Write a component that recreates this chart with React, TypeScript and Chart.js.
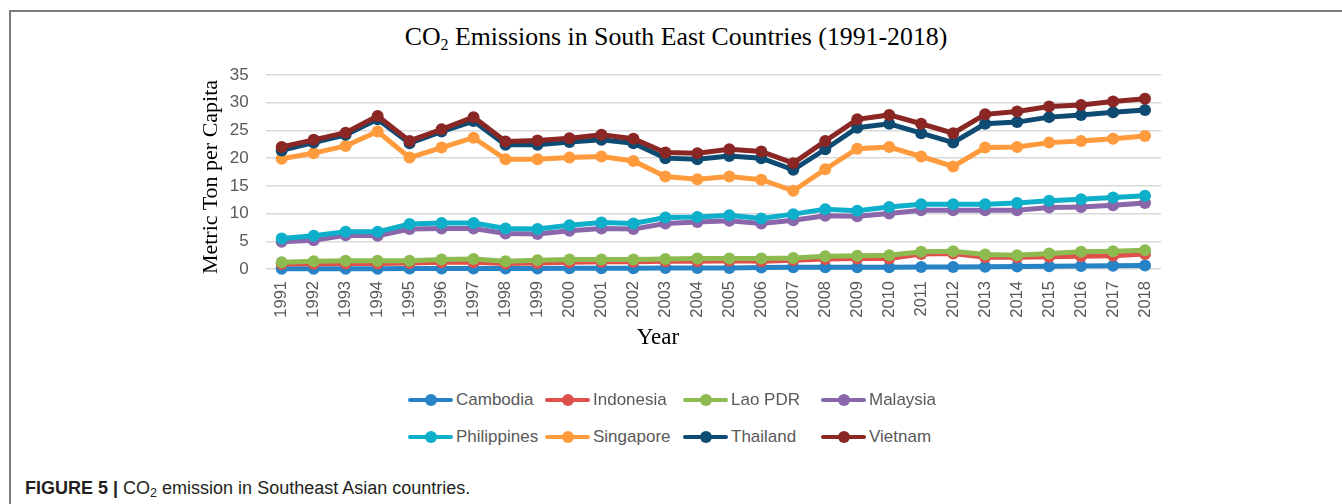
import React, { useEffect, useRef } from "react";
import { Chart, registerables } from "chart.js";

Chart.register(...registerables);

const years = [
  "1991", "1992", "1993", "1994", "1995", "1996", "1997", "1998", "1999", "2000",
  "2001", "2002", "2003", "2004", "2005", "2006", "2007", "2008", "2009", "2010",
  "2011", "2012", "2013", "2014", "2015", "2016", "2017", "2018",
];

const yTicks = [0, 5, 10, 15, 20, 25, 30, 35];

const cambodia = [0.05, 0.05, 0.05, 0.05, 0.1, 0.1, 0.1, 0.1, 0.1, 0.15, 0.15, 0.15, 0.2, 0.2, 0.2, 0.25, 0.3, 0.3, 0.3, 0.3, 0.35, 0.35, 0.4, 0.45, 0.5, 0.55, 0.6, 0.65];
const indonesia = [0.9, 0.95, 1.0, 1.0, 1.1, 1.2, 1.2, 1.0, 1.1, 1.2, 1.3, 1.3, 1.4, 1.4, 1.5, 1.4, 1.6, 1.8, 1.9, 1.9, 2.7, 2.8, 2.1, 2.1, 2.2, 2.3, 2.4, 2.7];
const laoPdr = [1.2, 1.4, 1.5, 1.5, 1.5, 1.7, 1.8, 1.4, 1.6, 1.7, 1.7, 1.7, 1.8, 1.9, 1.9, 1.9, 2.0, 2.3, 2.4, 2.5, 3.1, 3.2, 2.6, 2.5, 2.8, 3.1, 3.2, 3.4];
const malaysia = [4.9, 5.2, 6.1, 6.0, 7.2, 7.3, 7.3, 6.4, 6.3, 6.9, 7.3, 7.2, 8.2, 8.5, 8.7, 8.2, 8.8, 9.6, 9.5, 10.0, 10.6, 10.6, 10.6, 10.6, 11.1, 11.2, 11.5, 11.9];
const philippines = [5.5, 6.0, 6.7, 6.7, 8.1, 8.3, 8.3, 7.3, 7.2, 7.9, 8.4, 8.2, 9.3, 9.4, 9.7, 9.1, 9.9, 10.8, 10.5, 11.2, 11.7, 11.7, 11.7, 11.9, 12.3, 12.6, 12.9, 13.2];
const singapore = [19.9, 20.9, 22.2, 24.8, 20.1, 21.9, 23.7, 19.8, 19.8, 20.1, 20.3, 19.5, 16.7, 16.2, 16.7, 16.1, 14.1, 18.0, 21.7, 22.0, 20.3, 18.5, 21.9, 22.0, 22.8, 23.1, 23.5, 24.0];
const thailand = [21.4, 22.8, 24.2, 27.0, 22.7, 24.8, 26.7, 22.4, 22.4, 22.9, 23.3, 22.7, 20.0, 19.8, 20.4, 20.0, 17.9, 21.6, 25.5, 26.2, 24.5, 22.8, 26.2, 26.5, 27.4, 27.8, 28.3, 28.7];
const vietnam = [22.0, 23.3, 24.6, 27.6, 23.1, 25.2, 27.4, 23.0, 23.2, 23.6, 24.2, 23.5, 21.0, 20.9, 21.6, 21.2, 19.1, 23.1, 27.0, 27.8, 26.2, 24.5, 27.9, 28.4, 29.3, 29.6, 30.2, 30.7];

const seriesNames = ["Cambodia", "Indonesia", "Lao PDR", "Malaysia", "Philippines", "Singapore", "Thailand", "Vietnam"];
const seriesValues = [cambodia, indonesia, laoPdr, malaysia, philippines, singapore, thailand, vietnam];
const seriesColors = ["#2683C6", "#E0504A", "#8DBB50", "#8967AA", "#0DAFCB", "#FF9B3D", "#0E4B72", "#8A2725"];

const TICK_FONT = "'Liberation Sans', Arial, sans-serif";
const SERIF = "'Liberation Serif', 'Times New Roman', serif";

export default function App() {
  const canvasRef = useRef<HTMLCanvasElement | null>(null);

  useEffect(() => {
    const canvas = canvasRef.current;
    if (!canvas) return;
    const n = seriesNames.length;
    const chart = new Chart(canvas, {
      type: "line",
      data: {
        labels: years,
        datasets: seriesNames.map((name, i) => ({
          label: name,
          data: seriesValues[i],
          borderColor: seriesColors[i],
          backgroundColor: seriesColors[i],
          pointBackgroundColor: seriesColors[i],
          pointBorderWidth: 0,
          pointRadius: 6,
          borderWidth: 5,
          tension: 0,
          clip: false,
          order: n - 1 - i,
        })),
      },
      options: {
        responsive: false,
        animation: false,
        layout: { padding: { left: 200, right: 181, top: 75, bottom: 0 } },
        plugins: {
          legend: { display: false },
          tooltip: { enabled: false },
          title: { display: false },
        },
        scales: {
          x: {
            type: "category",
            offset: true,
            grid: { display: false, drawTicks: false },
            border: { display: false },
            ticks: {
              autoSkip: false,
              minRotation: 90,
              maxRotation: 90,
              padding: 12,
              color: "#595959",
              font: { family: TICK_FONT, size: 16.5 },
            },
            afterFit: (scale: any) => {
              scale.height = 61;
            },
          },
          y: {
            min: 0,
            max: 35,
            afterBuildTicks: (scale: any) => {
              scale.ticks = yTicks.map((v) => ({ value: v }));
            },
            grid: { color: "#d9d9d9", lineWidth: 1.5, drawTicks: false },
            border: { display: false },
            ticks: {
              padding: 17,
              color: "#595959",
              font: { family: TICK_FONT, size: 17 },
            },
            afterFit: (scale: any) => {
              scale.width = 65.7;
            },
          },
        },
      },
    });
    return () => chart.destroy();
  }, []);

  const legendCols = [408, 545, 683, 821];
  const legendRows = [400, 437];

  return (
    <div style={{ position: "absolute", left: 0, top: 0, width: 1342, height: 504, background: "#fff", overflow: "hidden" }}>
      <div
        style={{
          position: "absolute",
          left: 9,
          top: 10,
          right: 0,
          bottom: 0,
          borderTop: "2px solid #7a7a7a",
          borderLeft: "2px solid #7a7a7a",
        }}
      />
      <div
        style={{
          position: "absolute",
          left: 0,
          width: 1352,
          top: 24,
          height: 26,
          lineHeight: "26px",
          textAlign: "center",
          fontFamily: SERIF,
          fontSize: 25.8,
          color: "#000",
          whiteSpace: "nowrap",
        }}
      >
        CO<sub style={{ fontSize: "0.62em", verticalAlign: "-0.3em", lineHeight: 0 }}>2</sub> Emissions in South East Countries (1991-2018)
      </div>
      <canvas ref={canvasRef} width={1342} height={330} style={{ position: "absolute", left: 0, top: 0, width: 1342, height: 330 }} />
      <div
        style={{
          position: "absolute",
          left: 210 - 150,
          top: 177 - 13,
          width: 300,
          height: 26,
          lineHeight: "26px",
          textAlign: "center",
          transform: "rotate(-90deg)",
          fontFamily: SERIF,
          fontSize: 22,
          color: "#000",
          whiteSpace: "nowrap",
        }}
      >
        Metric Ton per Capita
      </div>
      <div
        style={{
          position: "absolute",
          left: 658 - 50,
          top: 337 - 13,
          width: 100,
          height: 26,
          lineHeight: "26px",
          textAlign: "center",
          fontFamily: SERIF,
          fontSize: 23,
          color: "#000",
        }}
      >
        Year
      </div>
      {seriesNames.map((name, i) => {
        const col = i % 4;
        const row = Math.floor(i / 4);
        return (
          <div
            key={name}
            style={{
              position: "absolute",
              left: legendCols[col],
              top: legendRows[row] - 11,
              height: 22,
              display: "flex",
              alignItems: "center",
              whiteSpace: "nowrap",
            }}
          >
            <div style={{ position: "relative", width: 45, height: 22, marginRight: 3 }}>
              <div style={{ position: "absolute", left: 0, right: 0, top: 9, height: 4, borderRadius: 2, background: seriesColors[i] }} />
              <div style={{ position: "absolute", left: 16.5, top: 5, width: 12, height: 12, borderRadius: "50%", background: seriesColors[i] }} />
            </div>
            <span style={{ fontFamily: TICK_FONT, fontSize: 17, color: "#595959" }}>{name}</span>
          </div>
        );
      })}
      <div
        style={{
          position: "absolute",
          left: 25,
          top: 477,
          height: 22,
          lineHeight: "22px",
          fontFamily: TICK_FONT,
          fontSize: 18,
          color: "#231f20",
          whiteSpace: "nowrap",
        }}
      >
        <b>FIGURE 5 |</b> CO<sub style={{ fontSize: "0.7em", verticalAlign: "-0.25em", lineHeight: 0 }}>2</sub> emission in Southeast Asian countries.
      </div>
    </div>
  );
}
